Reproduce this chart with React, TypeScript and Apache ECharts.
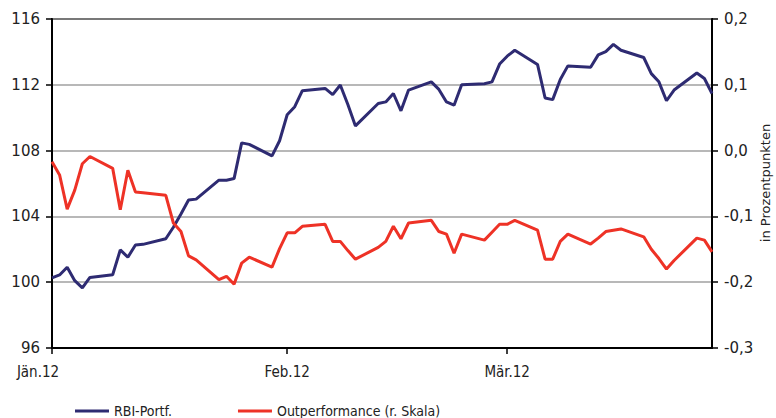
import React, { useEffect, useRef } from "react";
import * as echarts from "echarts";

const dates = [
  "2012-01-01", "2012-01-02", "2012-01-03", "2012-01-04", "2012-01-05", "2012-01-06",
  "2012-01-09", "2012-01-10", "2012-01-11", "2012-01-12", "2012-01-13",
  "2012-01-16", "2012-01-17", "2012-01-18", "2012-01-19", "2012-01-20",
  "2012-01-23", "2012-01-24", "2012-01-25", "2012-01-26", "2012-01-27",
  "2012-01-30", "2012-01-31", "2012-02-01", "2012-02-02", "2012-02-03",
  "2012-02-06", "2012-02-07", "2012-02-08", "2012-02-09", "2012-02-10",
  "2012-02-13", "2012-02-14", "2012-02-15", "2012-02-16", "2012-02-17",
  "2012-02-20", "2012-02-21", "2012-02-22", "2012-02-23", "2012-02-24",
  "2012-02-27", "2012-02-28", "2012-02-29", "2012-03-01", "2012-03-02",
  "2012-03-05", "2012-03-06", "2012-03-07", "2012-03-08", "2012-03-09",
  "2012-03-12", "2012-03-13", "2012-03-14", "2012-03-15", "2012-03-16",
  "2012-03-19", "2012-03-20", "2012-03-21", "2012-03-22", "2012-03-23",
  "2012-03-26", "2012-03-27", "2012-03-28",
];

const rbiPortf = [
  100.26, 100.44, 100.91, 100.09, 99.66, 100.29,
  100.45, 101.96, 101.52, 102.26, 102.3,
  102.64, 103.34, 104.15, 105.0, 105.05,
  106.2, 106.2, 106.3, 108.47, 108.38,
  107.68, 108.6, 110.18, 110.67, 111.64,
  111.78, 111.4, 111.99, 110.8, 109.5,
  110.86, 110.96, 111.47, 110.42, 111.68,
  112.18, 111.72, 110.96, 110.76, 112.0,
  112.06, 112.18, 113.26, 113.74, 114.1,
  113.24, 111.2, 111.1, 112.32, 113.15,
  113.07, 113.82, 114.02, 114.46, 114.1,
  113.66, 112.68, 112.18, 111.03, 111.68,
  112.72, 112.38, 111.47,
];

const outperformance = [
  -0.017, -0.037, -0.089, -0.06, -0.02, -0.009,
  -0.027, -0.09, -0.03, -0.063, -0.064,
  -0.068, -0.11, -0.123, -0.16, -0.166,
  -0.196, -0.191, -0.203, -0.171, -0.162,
  -0.177, -0.149, -0.125, -0.125, -0.115,
  -0.112, -0.138, -0.138, -0.152, -0.165,
  -0.147, -0.138, -0.115, -0.134, -0.11,
  -0.106, -0.123, -0.127, -0.156, -0.127,
  -0.136, -0.124, -0.112, -0.112, -0.106,
  -0.121, -0.165, -0.165, -0.138, -0.127,
  -0.142, -0.133, -0.123, -0.121, -0.119,
  -0.131, -0.15, -0.164, -0.18, -0.167,
  -0.133, -0.136, -0.154,
];

const axisStart = "2012-01-01";
const axisEnd = "2012-03-28";
const monthTicks = ["2012-01-01", "2012-02-01", "2012-03-01"];
const monthLabels = ["Jän.12", "Feb.12", "Mär.12"];

const seriesNames = ["RBI-Portf.", "Outperformance (r. Skala)"];
const rightAxisTitle = "in Prozentpunkten";

const dayIndex = (d: string) =>
  Math.round((Date.parse(d + "T00:00:00Z") - Date.parse(axisStart + "T00:00:00Z")) / 86400000);

export default function App() {
  const ref = useRef<HTMLDivElement>(null);
  useEffect(() => {
    if (!ref.current) return;
    const chart = echarts.init(ref.current, null, { renderer: "svg" });
    const tickDays = monthTicks.map(dayIndex);
    const labelFont = "'DejaVu Sans', sans-serif";
    const narrowFont = "'Liberation Sans Narrow', 'DejaVu Sans Condensed', 'Liberation Sans', sans-serif";
    chart.setOption({
      animation: false,
      backgroundColor: "#fff",
      grid: {
        left: 52,
        right: 64,
        top: 19,
        bottom: 70,
        show: true,
        borderColor: "#000",
        borderWidth: 2,
        outerBoundsMode: "none",
        containLabel: false,
      },
      graphic: [
        {
          type: "text",
          x: 765,
          y: 183,
          rotation: Math.PI / 2,
          style: {
            text: rightAxisTitle,
            fontFamily: "DejaVu Sans",
            fontSize: 13,
            fill: "#222",
            align: "center",
            verticalAlign: "middle",
          },
        },
      ],
      legend: {
        left: 70,
        top: 398,
        itemGap: 66,
        itemWidth: 34,
        itemHeight: 3,
        icon: "rect",
        textStyle: { fontFamily: narrowFont, fontSize: 14, lineHeight: 16, color: "#222" },
        data: seriesNames,
      },
      xAxis: {
        type: "value",
        min: dayIndex(axisStart),
        max: dayIndex(axisEnd),
        splitLine: { show: false },
        axisLine: { show: true, onZero: false, lineStyle: { color: "#000", width: 2 } },
        axisTick: {
          show: true,
          customValues: tickDays,
          length: 6,
          lineStyle: { color: "#000", width: 1.5 },
        },
        axisLabel: {
          customValues: tickDays,
          margin: 16,
          fontFamily: narrowFont,
          fontSize: 15,
          color: "#222",
          formatter: (v: number) => {
            const i = tickDays.indexOf(Math.round(v));
            if (i < 0) return "";
            return i === 0 ? "{a|" + monthLabels[i] + "}" : monthLabels[i];
          },
          rich: {
            a: { fontFamily: narrowFont, fontSize: 15, color: "#222", padding: [0, 28, 0, 0] },
          },
        },
      },
      yAxis: [
        {
          type: "value",
          min: 96,
          max: 116,
          interval: 4,
          position: "left",
          axisLine: { show: true, lineStyle: { color: "#000", width: 2 } },
          axisTick: { show: true, length: 6, lineStyle: { color: "#000", width: 1.5 } },
          splitLine: { show: true, lineStyle: { color: "#a0a0a0", width: 1.5 } },
          axisLabel: { margin: 12, fontFamily: labelFont, fontSize: 15, color: "#222" },
        },
        {
          type: "value",
          min: -0.3,
          max: 0.2,
          interval: 0.1,
          position: "right",
          axisLine: { show: true, lineStyle: { color: "#000", width: 2 } },
          axisTick: { show: true, length: 6, lineStyle: { color: "#000", width: 1.5 } },
          splitLine: { show: false },
          axisLabel: {
            margin: 12,
            fontFamily: labelFont,
            fontSize: 15,
            color: "#222",
            formatter: (v: number) => v.toFixed(1).replace("-0.0", "0.0").replace(".", ","),
          },
        },
      ],
      series: [
        {
          name: seriesNames[0],
          type: "line",
          yAxisIndex: 0,
          showSymbol: false,
          symbol: "none",
          lineStyle: { color: "#2e2b72", width: 3 },
          itemStyle: { color: "#2e2b72" },
          data: dates.map((d, i) => [dayIndex(d), rbiPortf[i]]),
        },
        {
          name: seriesNames[1],
          type: "line",
          yAxisIndex: 1,
          showSymbol: false,
          symbol: "none",
          lineStyle: { color: "#ee3226", width: 3 },
          itemStyle: { color: "#ee3226" },
          data: dates.map((d, i) => [dayIndex(d), outperformance[i]]),
        },
      ],
    });
    return () => chart.dispose();
  }, []);
  return (
    <div
      ref={ref}
      style={{ position: "fixed", left: 0, top: 0, width: 776, height: 418 }}
    />
  );
}
